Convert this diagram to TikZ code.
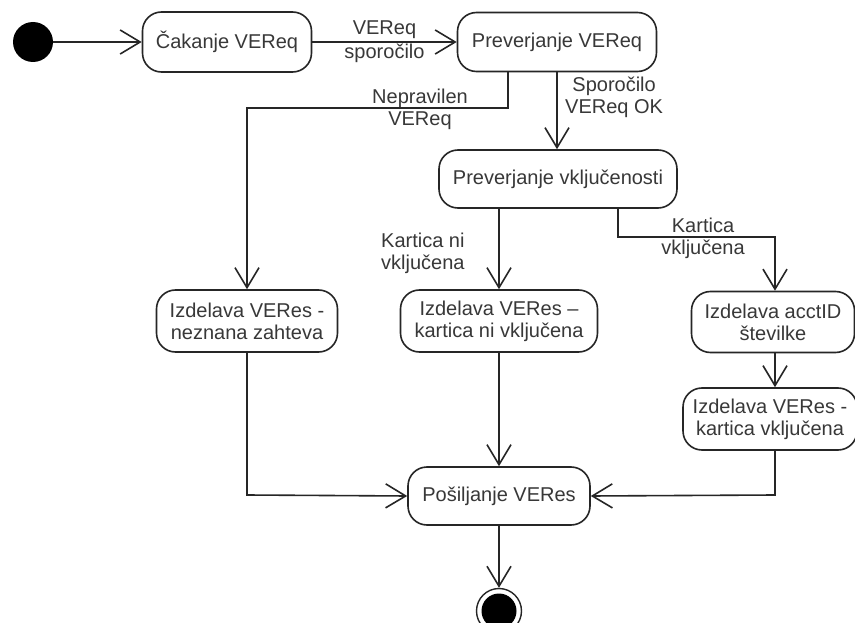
\documentclass[tikz,border=0pt]{standalone}
\usepackage{fontspec}
\setmainfont{Liberation Sans}
\usetikzlibrary{arrows.meta}
\begin{document}
\begin{tikzpicture}[x=1pt,y=-1pt,
  every node/.style={font=\fontsize{20}{22}\selectfont, text=black!78},
  activity/.style={draw=black!85, line width=1.6pt, rounded corners=19pt,
    align=center, inner sep=0pt},
  flow/.style={draw=black!85, line width=1.6pt,
    -{Straight Barb[length=20pt,width=24pt,line width=1.6pt]}},
  guard/.style={align=center, inner sep=0pt}]
\useasboundingbox[fill=white] (0,0) rectangle (855,623);

% start and end states
\node[circle, fill=black, minimum size=40pt, inner sep=0pt] (start) at (33,42) {};
\node[circle, draw=black!85, line width=1.4pt, minimum size=45pt, inner sep=0pt] (end) at (499,611) {};
\fill[black] (end.center) circle (17.5pt);

% activities
\node[activity, minimum width=169pt, minimum height=60pt] (cak) at (227,42) {Čakanje VEReq};
\node[activity, minimum width=199pt, minimum height=59pt] (prv) at (557,42) {Preverjanje VEReq};
\node[activity, minimum width=238pt, minimum height=58pt] (vkl) at (558,179) {Preverjanje vključenosti};
\node[activity, minimum width=181pt, minimum height=62pt] (nez) at (247,321) {Izdelava VERes -\\neznana zahteva};
\node[activity, minimum width=197pt, minimum height=62pt] (kni) at (499,321) {Izdelava VERes –\\kartica ni vključena};
\node[activity, minimum width=163pt, minimum height=61pt] (acc) at (773,322) {Izdelava acctID\\številke};
\node[activity, minimum width=174pt, minimum height=62pt] (kvk) at (770,419) {Izdelava VERes -\\kartica vključena};
\node[activity, minimum width=182pt, minimum height=58pt] (pos) at (499,496) {Pošiljanje VERes};

% bend points of the orthogonal connectors
\coordinate (b1) at (508,108);
\coordinate (b2) at (247,108);
\coordinate (b3) at (618,237);
\coordinate (b4) at (775,237);
\coordinate (b5) at (247,495);
\coordinate (b6) at (775,495);

% transitions
\draw[flow] (start) -- (cak);
\draw[flow] (cak) -- node[guard] {VEReq\\[2pt]sporočilo} (prv);
\draw[flow] (prv.south -| b1) -- (b1) -- (b2) -- (nez.north -| b2);
\node[guard] (lnep) at (420,109) {Nepravilen\\[0pt]VEReq};
\draw[flow] (prv.south) -- (vkl.north -| prv.south);
\node[guard, anchor=west] (lok) at (565,97) {Sporočilo\\VEReq OK};
\draw[flow] (vkl.south -| kni.north) -- (kni.north);
\node[guard, align=left, anchor=west] (lkni) at (381,253) {Kartica ni\\vključena};
\draw[flow] (vkl.south -| b3) -- (b3) -- (b4) -- (acc.north -| b4);
\node[guard] (lkvk) at (703,238) {Kartica\\[0pt]vključena};
\draw[flow] (acc.south -| b4) -- (kvk.north -| b4);
\draw[flow] (nez.south) -- (b5) -- (pos.west);
\draw[flow] (kni.south) -- (pos.north);
\draw[flow] (kvk.south -| b6) -- (b6) -- (pos.east);
\draw[flow] (pos.south) -- (end.north);
\end{tikzpicture}
\end{document}
